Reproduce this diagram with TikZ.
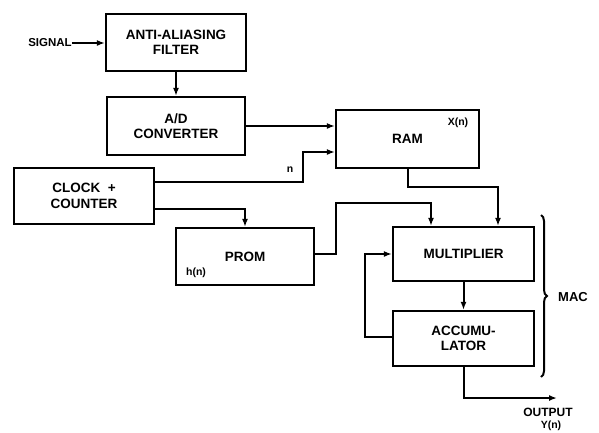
\documentclass[tikz,border=0pt]{standalone}
\usepackage{fontspec}
\setmainfont{Liberation Sans}
\usetikzlibrary{arrows.meta,calc,decorations.pathreplacing}
\begin{document}
\begin{tikzpicture}[x=1pt,y=-1pt,
  box/.style={draw,line width=2.2pt,rectangle,inner sep=0pt,align=center,
    font=\fontsize{13.5}{15.5}\selectfont\bfseries},
  lbl/.style={inner sep=0pt,font=\fontsize{10.5}{12}\selectfont\bfseries},
  conn/.style={line width=2pt},
  arr/.style={conn,-{Latex[length=8pt,width=6pt]}}]
\useasboundingbox (0,0) rectangle (599,432);
\node[box,minimum width=140pt,minimum height=57pt] (filter) at (176,42.5) {ANTI-ALIASING\\FILTER};
\node[box,minimum width=138pt,minimum height=58pt] (adc) at (176,126) {A/D\\CONVERTER};
\node[box,minimum width=143pt,minimum height=58pt] (ram) at (407.5,139) {RAM};
\node[box,minimum width=140pt,minimum height=56pt] (clock) at (84,196) {CLOCK \ +\\COUNTER};
\node[box,minimum width=138pt,minimum height=57pt] (prom) at (245,256.5) {PROM};
\node[box,minimum width=141pt,minimum height=54pt] (mult) at (463.5,254) {MULTIPLIER};
\node[box,minimum width=141pt,minimum height=55pt] (acc) at (463.5,338.5) {ACCUMU-\\LATOR};
\node[lbl,font=\fontsize{11.5}{13}\selectfont\bfseries] (sig) at (50,43) {SIGNAL};
\node[lbl] (xn) at (458,123) {X(n)};
\node[lbl] (nl) at (290,170) {n};
\node[lbl] (hn) at (196,273) {h(n)};
\node[lbl,font=\fontsize{12}{13}\selectfont\bfseries] (outl) at (548,412) {OUTPUT};
\node[lbl] (yn) at (551,426) {Y(n)};
\node[lbl,font=\fontsize{13}{15}\selectfont\bfseries] (mac) at (573,297) {MAC};
\coordinate (out) at (557,398);
\coordinate (bt) at (541,215);
\coordinate (bb) at (541,377);
\draw[arr] (sig.east) -- (filter.west |- sig);
\draw[arr] (filter.south) -- (adc.north);
\draw[arr] (adc.east) -- (adc.east -| ram.west);
\draw[arr] ([yshift=14pt]clock.east) -- ++(148,0) |- ([yshift=-13pt]ram.west);
\draw[arr] ([yshift=-13pt]clock.east) -| (prom.north);
\draw[arr] ([yshift=2.5pt]prom.east) -- ++(21,0) -- ++(0,-51) -| ([xshift=-32.5pt]mult.north);
\draw[arr] (ram.south) -- ++(0,18) -| ([xshift=34.5pt]mult.north);
\draw[arr] (mult.south) -- (acc.north);
\draw[arr] ([yshift=1.5pt]acc.west) -- ++(-27,0) |- (mult.west);
\draw[arr] (acc.south) |- (out);
\draw[conn,decorate,decoration={brace,amplitude=6pt}] (bt) -- (bb);
\end{tikzpicture}
\end{document}
